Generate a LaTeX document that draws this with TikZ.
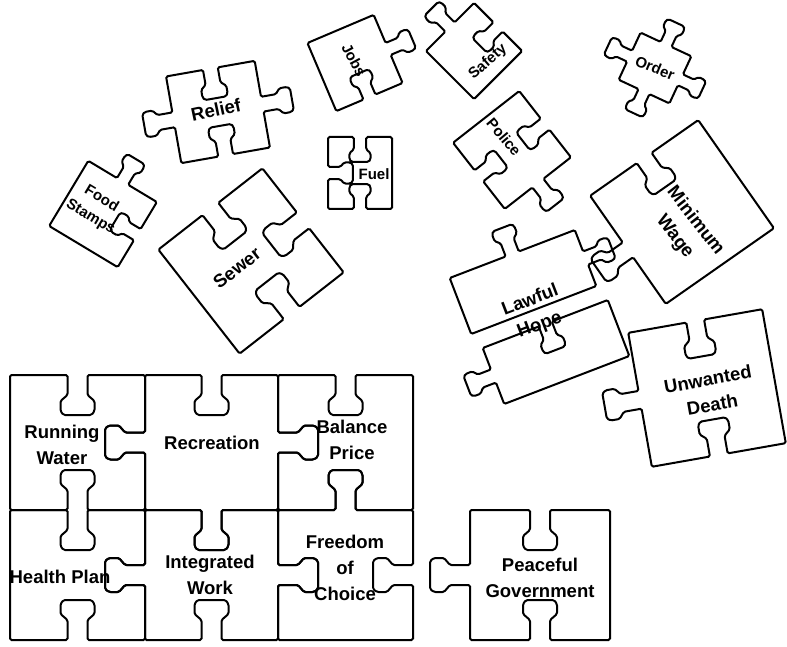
\documentclass[tikz,border=0pt]{standalone}
\usepackage{fontspec}
\setmainfont{Liberation Sans}

\tikzset{
	piece/.style={draw=black, line width=2pt, rounded corners=1.5pt},
	word/.style={font=\bfseries\fontsize{18.5}{26}\selectfont, align=center, inner sep=0pt},
	smallword/.style={font=\bfseries\fontsize{15}{21}\selectfont, align=center, inner sep=0pt},
}

% one tab: offset along the edge / depth off the edge
\def\tabprofile{-10/0,-10/20,-17/26,-17/36,-14/40,14/40,17/36,17/26,10/20,10/0}

% \piece{half width}{half height}{tab scale}{top}{right}{bottom}{left}
% side codes: 1 = tab out, -1 = tab in, 0 = flat
\newcommand\piece[7]{%
	\def\pa{#1}\def\pb{#2}\def\pk{#3}%
	\draw[piece] (-\pa,-\pb)
		\ifnum#4=0 \else \foreach \pu/\pv in \tabprofile {-- ({\pk*\pu},{-\pb-(#4)*\pk*\pv})}\fi
		-- (\pa,-\pb)
		\ifnum#5=0 \else \foreach \pu/\pv in \tabprofile {-- ({\pa+(#5)*\pk*\pv},{\pk*\pu})}\fi
		-- (\pa,\pb)
		\ifnum#6=0 \else \foreach \pu/\pv in \tabprofile {-- ({-\pk*\pu},{\pb+(#6)*\pk*\pv})}\fi
		-- (-\pa,\pb)
		\ifnum#7=0 \else \foreach \pu/\pv in \tabprofile {-- ({-\pa-(#7)*\pk*\pv},{-\pk*\pu})}\fi
		-- cycle;}

\begin{document}
\begin{tikzpicture}[x=1pt, y=-1pt]
	\useasboundingbox (0,0) rectangle (787,647);

	% the finished part, two rows of three
	\begin{scope}[shift={(77.5,442.5)}] \piece{67.5}{67.5}{1}{-1}{-1}{-1}{0} \end{scope}
	\begin{scope}[shift={(211.5,442.5)}] \piece{66.5}{67.5}{1}{-1}{1}{1}{1} \end{scope}
	\begin{scope}[shift={(345.5,442.5)}] \piece{67.5}{67.5}{1}{-1}{0}{-1}{-1} \end{scope}
	\begin{scope}[shift={(77.5,575)}] \piece{67.5}{65}{1}{-1}{-1}{-1}{0} \end{scope}
	\begin{scope}[shift={(211.5,575)}] \piece{66.5}{65}{1}{-1}{1}{-1}{1} \end{scope}
	\begin{scope}[shift={(345.5,575)}] \piece{67.5}{65}{1}{1}{-1}{0}{-1} \end{scope}
	\node[word] (water) at (62,445) {Running\\Water};
	\node[word] (recreation) at (212,443) {Recreation};
	\node[word] (price) at (352,440) {Balance\\Price};
	\node[word] (health) at (60,577) {Health Plan};
	\node[word] (integrated) at (210,575) {Integrated\\Work};
	\node[word] (freedom) at (345,568) {Freedom\\of\\Choice};

	% next piece to go in
	\begin{scope}[shift={(540,575)}] \piece{70}{65}{1}{-1}{0}{-1}{1} \end{scope}
	\node[word] (peaceful) at (540,578) {Peaceful\\Government};

	% loose pieces
	\begin{scope}[shift={(218,112)}, rotate=10] \piece{45}{44}{0.75}{-1}{1}{-1}{1} \end{scope}
	\node[word, rotate=12] (relief) at (216,110) {Relief};

	\begin{scope}[shift={(355,63)}, rotate=23] \piece{36}{37}{0.65}{0}{1}{-1}{0} \end{scope}
	\node[smallword, rotate=-62] (jobs) at (354,60) {Jobs};

	\begin{scope}[shift={(474,51)}, rotate=45] \piece{34}{34}{0.65}{1}{-1}{0}{0} \end{scope}
	\node[smallword, rotate=41] (safety) at (488,62) {Safety};

	\begin{scope}[shift={(655,68)}, rotate=-25] \piece{28}{26}{0.6}{1}{1}{1}{1} \end{scope}
	\node[smallword, rotate=-22] (order) at (655,68) {Order};

	\begin{scope}[shift={(360,173)}] \piece{32}{36}{0.62}{-1}{0}{-1}{-1} \end{scope}
	\node[smallword] (fuel) at (374,174) {Fuel};

	\begin{scope}[shift={(512,150)}, rotate=38] \piece{42}{42}{0.7}{0}{-1}{1}{-1} \end{scope}
	\node[smallword, rotate=-50] (police) at (504,137) {Police};

	\begin{scope}[shift={(103,214)}, rotate=-31] \piece{40}{38}{0.65}{1}{-1}{0}{0} \end{scope}
	\node[smallword, rotate=-31] (stamps) at (96,208) {Food\\Stamps};

	\begin{scope}[shift={(251,261)}, rotate=38] \piece{66}{66}{1}{-1}{-1}{-1}{0} \end{scope}
	\node[word, rotate=38] (sewer) at (237,268) {Sewer};

	\begin{scope}[shift={(682,212)}, rotate=35] \piece{66}{66}{0.9}{-1}{0}{0}{1} \end{scope}
	\node[word, rotate=-52] (wage) at (685,229) {Minimum\\Wage};

	\begin{scope}[shift={(523,282)}, rotate=21] \piece{67}{30}{0.7}{1}{1}{0}{0} \end{scope}
	\begin{scope}[shift={(556,352)}, rotate=21] \piece{67}{30}{0.7}{-1}{0}{0}{1} \end{scope}
	\node[word, rotate=21] (lawful) at (535,313) {Lawful\\Hope};

	\begin{scope}[shift={(707,388)}, rotate=10] \piece{68}{68}{0.9}{-1}{0}{-1}{1} \end{scope}
	\node[word, rotate=10] (death) at (710,392) {Unwanted\\Death};
\end{tikzpicture}
\end{document}
